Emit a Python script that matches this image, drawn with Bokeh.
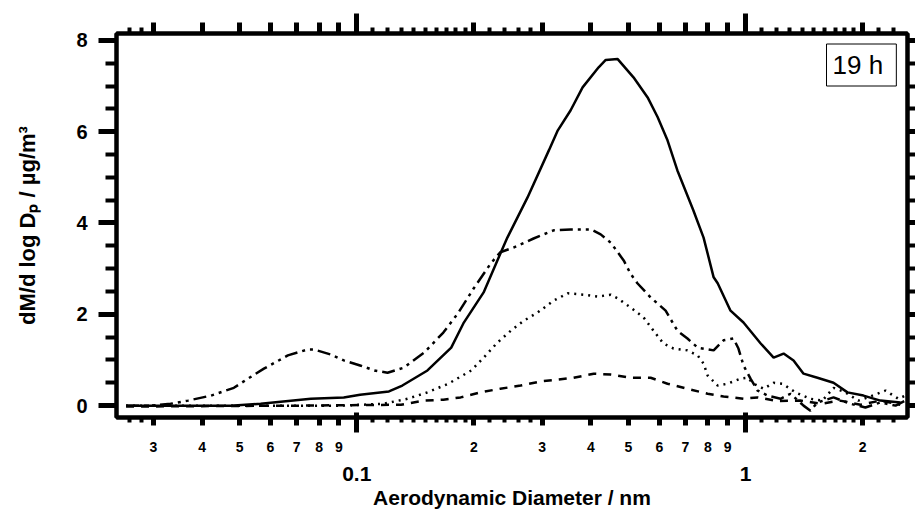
from bokeh.plotting import figure
from bokeh.models import (Range1d, LogAxis, LinearAxis, FixedTicker,
                          CustomJSTickFormatter, Label)
from bokeh.embed import file_html
from bokeh.resources import INLINE

# --- mass size distributions, dM/dlogDp (ug/m3) vs aerodynamic diameter ---
d_solid = [0.0255, 0.0474, 0.0566, 0.0762, 0.0926, 0.102, 0.121, 0.131, 0.152, 0.175,
           0.188, 0.212, 0.230, 0.244, 0.275, 0.312, 0.329, 0.355, 0.381, 0.419,
           0.437, 0.469, 0.515, 0.560, 0.594, 0.630, 0.668, 0.734, 0.780, 0.828,
           0.848, 0.915, 0.988, 1.094, 1.181, 1.253, 1.329, 1.410, 1.531, 1.684,
           1.829, 2.011, 2.223, 2.503]
m_solid = [0.0, 0.0, 0.04, 0.15, 0.18, 0.24, 0.31, 0.44, 0.77, 1.27,
           1.80, 2.48, 3.18, 3.68, 4.56, 5.59, 6.03, 6.47, 6.97, 7.41,
           7.57, 7.59, 7.19, 6.75, 6.32, 5.81, 5.15, 4.28, 3.68, 2.81,
           2.68, 2.08, 1.82, 1.36, 1.05, 1.14, 0.99, 0.70, 0.61, 0.50,
           0.29, 0.22, 0.11, 0.07]

d_dashdot = [0.0255, 0.0295, 0.0332, 0.0368, 0.0422, 0.0483, 0.0525, 0.0577, 0.0665, 0.0748,
             0.0775, 0.0857, 0.0926, 0.102, 0.111, 0.120, 0.132, 0.149, 0.167, 0.182,
             0.200, 0.221, 0.234, 0.253, 0.285, 0.321, 0.355, 0.400, 0.424, 0.450,
             0.486, 0.506, 0.527, 0.570, 0.623, 0.668, 0.709, 0.753, 0.828, 0.878,
             0.931, 0.959, 0.988, 1.030, 1.074, 1.140, 1.231, 1.306, 1.410, 1.469,
             1.531, 1.684, 1.862, 2.034, 2.223, 2.432, 2.578]
m_dashdot = [0.0, 0.0, 0.04, 0.11, 0.22, 0.39, 0.59, 0.81, 1.10, 1.23,
             1.23, 1.12, 0.99, 0.88, 0.77, 0.72, 0.83, 1.16, 1.60, 2.02,
             2.57, 3.11, 3.36, 3.46, 3.66, 3.84, 3.86, 3.86, 3.75, 3.57,
             3.18, 2.89, 2.68, 2.37, 2.08, 1.64, 1.47, 1.27, 1.21, 1.43,
             1.47, 1.25, 0.88, 0.59, 0.33, 0.22, 0.15, 0.26, 0.0, -0.11,
             0.07, 0.18, 0.04, -0.04, 0.07, 0.0, 0.11]

d_dotted = [0.0255, 0.0718, 0.0909, 0.117, 0.135, 0.152, 0.172, 0.197, 0.212, 0.230,
            0.249, 0.269, 0.292, 0.321, 0.349, 0.383, 0.417, 0.450, 0.469, 0.506,
            0.547, 0.580, 0.615, 0.653, 0.709, 0.753, 0.780, 0.799, 0.848, 0.899,
            0.971, 1.012, 1.049, 1.113, 1.181, 1.245, 1.345, 1.469, 1.577, 1.684,
            1.808, 1.950, 2.094, 2.291, 2.473, 2.578]
m_dotted = [0.0, 0.0, 0.0, 0.04, 0.15, 0.29, 0.48, 0.77, 1.05, 1.38,
            1.64, 1.86, 2.04, 2.30, 2.46, 2.43, 2.39, 2.43, 2.35, 2.15,
            1.93, 1.64, 1.36, 1.25, 1.21, 1.10, 0.92, 0.66, 0.44, 0.48,
            0.59, 0.61, 0.48, 0.37, 0.50, 0.48, 0.29, 0.15, 0.11, 0.39,
            0.29, 0.11, 0.20, 0.33, 0.15, 0.22]

d_dashed = [0.0255, 0.0718, 0.130, 0.149, 0.167, 0.185, 0.208, 0.234, 0.264, 0.297,
            0.329, 0.361, 0.407, 0.450, 0.506, 0.570, 0.630, 0.709, 0.799, 0.878,
            0.988, 1.074, 1.209, 1.384, 1.562, 1.750, 1.976, 2.223, 2.50]
m_dashed = [-0.02, 0.0, 0.02, 0.11, 0.13, 0.18, 0.29, 0.37, 0.44, 0.53,
            0.57, 0.61, 0.70, 0.68, 0.61, 0.61, 0.48, 0.37, 0.26, 0.20,
            0.15, 0.18, 0.10, 0.11, 0.04, 0.11, 0.02, 0.11, 0.02]

# --- tick layout (log x, linear y) ---
x_digit_ticks = [0.03, 0.04, 0.05, 0.06, 0.07, 0.08, 0.09,
                 0.2, 0.3, 0.4, 0.5, 0.6, 0.7, 0.8, 0.9, 2.0]
x_digit_labels = ["3", "4", "5", "6", "7", "8", "9",
                  "2", "3", "4", "5", "6", "7", "8", "9", "2"]
x_decade_ticks = [0.1, 1.0]
x_decade_labels = ["0.1", "1"]
x_minor_ticks = [0.026, 0.028,
                 0.11, 0.12, 0.13, 0.14, 0.15, 0.16, 0.17, 0.18, 0.19,
                 0.22, 0.24, 0.26, 0.28,
                 1.1, 1.2, 1.3, 1.4, 1.5, 1.6, 1.7, 1.8, 1.9,
                 2.2, 2.4]
y_major_ticks = [0, 2, 4, 6, 8]
y_major_labels = ["0", "2", "4", "6", "8"]
y_minor_ticks = [0.5, 1.0, 1.5, 2.5, 3.0, 3.5, 4.5, 5.0, 5.5, 6.5, 7.0, 7.5]

FONT = "Liberation Sans"
INK = "black"

LOOKUP = """
for (let i = 0; i < vals.length; i++) {
    if (Math.abs(vals[i] - tick) <= 1e-6 * Math.max(1e-12, Math.abs(vals[i]))) {
        return names[i];
    }
}
return "";
"""


def label_formatter(vals, names):
    return CustomJSTickFormatter(args=dict(vals=list(vals), names=list(names)), code=LOOKUP)


def blank_formatter():
    return CustomJSTickFormatter(code="return '';")


p = figure(width=915, height=511, x_axis_type="log",
           x_range=Range1d(0.0241, 2.61), y_range=Range1d(-0.26, 8.15),
           output_backend="svg", toolbar_location=None,
           min_border_left=116, min_border_right=8,
           min_border_top=33, min_border_bottom=94)
p.xgrid.visible = False
p.ygrid.visible = False
p.background_fill_color = "white"
p.border_fill_color = "white"
p.outline_line_color = INK
p.outline_line_width = 4

# bottom axis: digit labels, short ticks
xa = p.xaxis[0]
xa.ticker = FixedTicker(ticks=x_digit_ticks + x_decade_ticks, minor_ticks=x_minor_ticks)
xa.formatter = label_formatter(x_digit_ticks, x_digit_labels)
xa.axis_line_width = 4
xa.axis_line_color = INK
xa.major_tick_line_color = INK
xa.minor_tick_line_color = INK
xa.major_tick_in = 0
xa.major_tick_out = 8
xa.major_tick_line_width = 5
xa.minor_tick_in = 0
xa.minor_tick_out = 5
xa.minor_tick_line_width = 4
xa.major_label_standoff = 16
xa.major_label_text_font = FONT
xa.major_label_text_font_style = "bold"
xa.major_label_text_font_size = "14px"
xa.major_label_text_color = INK

# second bottom axis: decade labels with long ticks reaching the frame
HA = 42
xb = LogAxis(ticker=FixedTicker(ticks=x_decade_ticks, minor_ticks=[]),
             formatter=label_formatter(x_decade_ticks, x_decade_labels))
xb.axis_line_color = None
xb.major_tick_line_color = INK
xb.major_tick_in = HA
xb.major_tick_out = 20 - HA
xb.major_tick_line_width = 5
xb.minor_tick_line_color = None
xb.major_label_standoff = 12
xb.major_label_text_font = FONT
xb.major_label_text_font_style = "bold"
xb.major_label_text_font_size = "21px"
xb.major_label_text_color = INK
xb.axis_label = "Aerodynamic Diameter / nm"
xb.axis_label_standoff = 2
xb.axis_label_text_font = FONT
xb.axis_label_text_font_style = "bold"
xb.axis_label_text_font_size = "21px"
xb.axis_label_text_color = INK
p.add_layout(xb, "below")

# top mirror axes
ta = LogAxis(ticker=FixedTicker(ticks=x_digit_ticks + x_decade_ticks, minor_ticks=x_minor_ticks),
             formatter=blank_formatter())
ta.axis_line_width = 4
ta.axis_line_color = INK
ta.major_tick_line_color = INK
ta.minor_tick_line_color = INK
ta.major_tick_in = 0
ta.major_tick_out = 11
ta.major_tick_line_width = 5
ta.minor_tick_in = 0
ta.minor_tick_out = 6
ta.minor_tick_line_width = 4
ta.major_label_standoff = 0
ta.major_label_text_font_size = "0px"
p.add_layout(ta, "above")

tb = LogAxis(ticker=FixedTicker(ticks=x_decade_ticks, minor_ticks=[]),
             formatter=blank_formatter())
tb.axis_line_color = None
tb.major_tick_line_color = INK
tb.major_tick_in = 11
tb.major_tick_out = 9
tb.major_tick_line_width = 5
tb.minor_tick_line_color = None
tb.major_label_standoff = 0
tb.major_label_text_font_size = "0px"
p.add_layout(tb, "above")

# left axis
ya = p.yaxis[0]
ya.ticker = FixedTicker(ticks=y_major_ticks, minor_ticks=y_minor_ticks)
ya.formatter = label_formatter(y_major_ticks, y_major_labels)
ya.axis_line_width = 4
ya.axis_line_color = INK
ya.major_tick_line_color = INK
ya.minor_tick_line_color = INK
ya.major_tick_in = 0
ya.major_tick_out = 18
ya.major_tick_line_width = 5
ya.minor_tick_in = 0
ya.minor_tick_out = 11
ya.minor_tick_line_width = 4
ya.major_label_standoff = 11
ya.major_label_text_font = FONT
ya.major_label_text_font_style = "bold"
ya.major_label_text_font_size = "20px"
ya.major_label_text_color = INK
ya.axis_label = "dM/d log D\u209a / \u00b5g/m\u00b3"
ya.axis_label_standoff = 33
ya.axis_label_text_font = FONT
ya.axis_label_text_font_style = "bold"
ya.axis_label_text_font_size = "22px"
ya.axis_label_text_color = INK

# right mirror axis
yr = LinearAxis(ticker=FixedTicker(ticks=y_major_ticks, minor_ticks=y_minor_ticks),
                formatter=blank_formatter())
yr.axis_line_width = 4
yr.axis_line_color = INK
yr.major_tick_line_color = INK
yr.minor_tick_line_color = INK
yr.major_tick_in = 0
yr.major_tick_out = 8
yr.major_tick_line_width = 5
yr.minor_tick_in = 0
yr.minor_tick_out = 8
yr.minor_tick_line_width = 4
yr.major_label_standoff = 0
yr.major_label_text_font_size = "0px"
p.add_layout(yr, "right")

# distributions
p.line(d_dashed, m_dashed, line_color=INK, line_width=2.5, line_dash="8 7")
p.line(d_dotted, m_dotted, line_color=INK, line_width=2.5, line_dash="2 5")
p.line(d_dashdot, m_dashdot, line_color=INK, line_width=2.5, line_dash="13 5 3 5 3 5")
p.line(d_solid, m_solid, line_color=INK, line_width=2.5)

# sampling-time tag
tag = Label(x=2.443, y=7.92, text="19  h", text_align="right", text_baseline="top",
            text_font=FONT, text_font_size="26px", text_color=INK,
            padding=6, border_line_color=INK, border_line_width=1,
            background_fill_color="white")
p.add_layout(tag)

open("out.html", "w").write(file_html(p, INLINE))
